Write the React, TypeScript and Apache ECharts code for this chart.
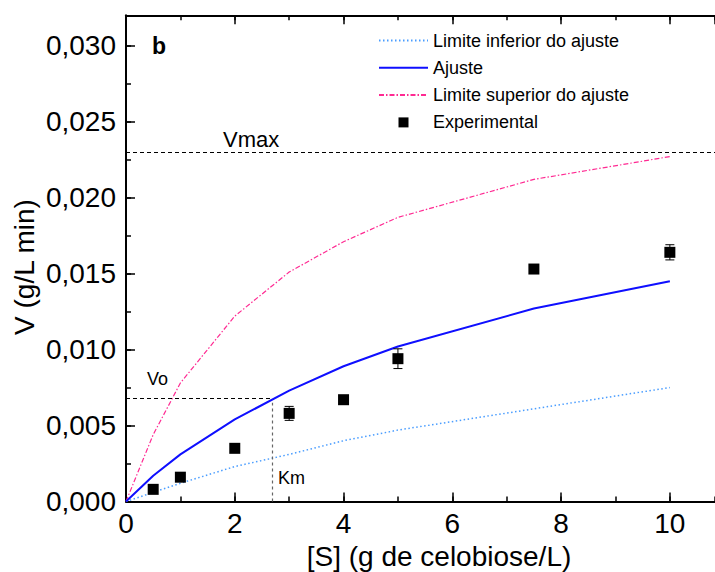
import React, { useEffect, useRef } from "react";
import * as echarts from "echarts";

const xFit = [0, 0.5, 1, 2, 3, 4, 5, 7.5, 10];
const lowerFit = [0, 0.0006, 0.0012, 0.0023, 0.0031, 0.004, 0.0047, 0.0061, 0.0075];
const ajusteFit = [0, 0.0017, 0.0031, 0.0054, 0.0073, 0.0089, 0.0102, 0.0127, 0.0145];
const upperFit = [0, 0.0044, 0.0078, 0.0122, 0.0151, 0.0171, 0.0187, 0.0212, 0.0227];

const xExp = [0.5, 1, 2, 3, 4, 5, 7.5, 10];
const yExp = [0.0008, 0.0016, 0.0035, 0.0058, 0.0067, 0.0094, 0.0153, 0.0164];
const errExp = [0.0002, 0.0002, 0.0002, 0.00046, 0.0002, 0.00065, 0.0002, 0.0005];

const vmax = 0.023;
const vo = 0.0068;
const km = 2.68;

const xTickLabels = ["0", "2", "4", "6", "8", "10"];
const yTickLabels = ["0,000", "0,005", "0,010", "0,015", "0,020", "0,025", "0,030"];

const FONT = "'Liberation Sans', Arial, Helvetica, sans-serif";

export default function App() {
  const ref = useRef<HTMLDivElement>(null);
  useEffect(() => {
    if (!ref.current) return;
    const chart = echarts.init(ref.current, undefined, { renderer: "svg" });
    const XMAX = 10.83;
    const YMAX = 0.032;
    const axisLineStyle = { color: "#000", width: 2 };
    const baseX = {
      type: "value",
      min: 0,
      max: XMAX,
      splitLine: { show: false },
    };
    const baseY = {
      type: "value",
      min: 0,
      max: YMAX,
      splitLine: { show: false },
    };
    const fmtX = (v: number) => {
      const i = Math.round(v / 2);
      return Math.abs(v - i * 2) < 1e-9 && i < xTickLabels.length ? xTickLabels[i] : "";
    };
    const fmtY = (v: number) => {
      const i = Math.round(v / 0.005);
      return Math.abs(v - i * 0.005) < 1e-9 && i < yTickLabels.length ? yTickLabels[i] : "";
    };
    const hiddenSym = { color: "rgba(0,0,0,0)", borderWidth: 0 };
    const option: any = {
      animation: false,
      backgroundColor: "#fff",
      textStyle: { fontFamily: FONT },
      grid: { left: 126, right: 0, top: 15.3, bottom: 70.5, containLabel: false, outerBoundsMode: "none" },
      legend: {
        left: 378,
        top: 31.5,
        padding: 0,
        orient: "vertical",
        itemWidth: 49,
        itemHeight: 10,
        itemGap: 9.3,
        symbolKeepAspect: true,
        textStyle: { fontSize: 18, lineHeight: 18, color: "#000", fontFamily: FONT },
        data: [
          { name: "Limite inferior do ajuste", itemStyle: hiddenSym },
          { name: "Ajuste", itemStyle: hiddenSym },
          { name: "Limite superior do ajuste", itemStyle: hiddenSym },
          { name: "Experimental", icon: "path://M0,0H10V10H0Z", itemStyle: { color: "#000" } },
        ],
      },
      xAxis: [
        {
          ...baseX,
          position: "bottom",
          interval: 2,
          axisLine: { show: true, lineStyle: axisLineStyle },
          axisTick: { show: true, inside: true, length: 9, lineStyle: { color: "#000", width: 1.5 } },
          axisLabel: { show: true, formatter: fmtX, fontSize: 28, color: "#000", margin: 8, showMaxLabel: false, fontFamily: FONT },
          name: "[S] (g de celobiose/L)",
          nameLocation: "middle",
          nameGap: 40,
          nameTextStyle: { fontSize: 28, color: "#000", padding: [0, 0, 0, 37], fontFamily: FONT },
        },
        {
          ...baseX,
          position: "bottom",
          interval: 1,
          axisLine: { show: false },
          axisTick: { show: true, inside: true, length: 5, lineStyle: { color: "#000", width: 1.5 } },
          axisLabel: { show: false },
        },
        {
          ...baseX,
          position: "top",
          interval: 2,
          axisLine: { show: true, lineStyle: axisLineStyle },
          axisTick: { show: true, inside: true, length: 9, lineStyle: { color: "#000", width: 1.5 } },
          axisLabel: { show: false },
        },
        {
          ...baseX,
          position: "top",
          interval: 1,
          axisLine: { show: false },
          axisTick: { show: true, inside: true, length: 5, lineStyle: { color: "#000", width: 1.5 } },
          axisLabel: { show: false },
        },
      ],
      yAxis: [
        {
          ...baseY,
          position: "left",
          interval: 0.005,
          axisLine: { show: true, lineStyle: axisLineStyle },
          axisTick: { show: true, inside: true, length: 9, lineStyle: { color: "#000", width: 1.5 } },
          axisLabel: { show: true, formatter: fmtY, fontSize: 28, color: "#000", margin: 10, showMaxLabel: false, fontFamily: FONT },
        },
        {
          ...baseY,
          position: "left",
          interval: 0.0025,
          axisLine: { show: false },
          axisTick: { show: true, inside: true, length: 5, lineStyle: { color: "#000", width: 1.5 } },
          axisLabel: { show: false },
        },
      ],
      series: [
        {
          name: "Limite inferior do ajuste",
          type: "line",
          xAxisIndex: 0,
          yAxisIndex: 0,
          symbol: "none",
          data: xFit.map((x, i) => [x, lowerFit[i]]),
          lineStyle: { color: "#4a9dff", width: 1.5, type: [1.5, 2.5] },
          itemStyle: { color: "#4a9dff" },
          z: 2,
        },
        {
          name: "Ajuste",
          type: "line",
          xAxisIndex: 0,
          yAxisIndex: 0,
          symbol: "none",
          data: xFit.map((x, i) => [x, ajusteFit[i]]),
          lineStyle: { color: "#0f0fff", width: 2 },
          itemStyle: { color: "#0f0fff" },
          z: 3,
          markLine: {
            silent: true,
            symbol: "none",
            label: { show: false },
            lineStyle: { color: "#000", width: 1, type: [4, 3] },
            data: [
              [{ coord: [0, vmax] }, { coord: [XMAX, vmax] }],
              [{ coord: [0, vo] }, { coord: [km, vo] }],
              [{ coord: [km, 0], lineStyle: { color: "#666", width: 1.2, type: [3, 3] } }, { coord: [km, vo - 0.0003] }],
            ],
          },
        },
        {
          name: "Limite superior do ajuste",
          type: "line",
          xAxisIndex: 0,
          yAxisIndex: 0,
          symbol: "none",
          data: xFit.map((x, i) => [x, upperFit[i]]),
          lineStyle: { color: "#ff2a92", width: 1.2, type: [5, 2, 1.5, 2] },
          itemStyle: { color: "#ff2a92" },
          z: 2,
        },
        {
          name: "ErrorBars",
          type: "custom",
          xAxisIndex: 0,
          yAxisIndex: 0,
          data: xExp.map((x, i) => [x, yExp[i], errExp[i]]),
          encode: { x: 0, y: 1 },
          z: 4,
          renderItem: (params: any, api: any) => {
            const x = api.value(0);
            const y = api.value(1);
            const e = api.value(2);
            const top = api.coord([x, y + e]);
            const bot = api.coord([x, y - e]);
            const hw = 4.5;
            const st = { stroke: "#000", lineWidth: 1 };
            return {
              type: "group",
              children: [
                { type: "line", shape: { x1: top[0], y1: top[1], x2: bot[0], y2: bot[1] }, style: st },
                { type: "line", shape: { x1: top[0] - hw, y1: top[1], x2: top[0] + hw, y2: top[1] }, style: st },
                { type: "line", shape: { x1: bot[0] - hw, y1: bot[1], x2: bot[0] + hw, y2: bot[1] }, style: st },
              ],
            };
          },
        },
        {
          name: "Experimental",
          type: "scatter",
          xAxisIndex: 0,
          yAxisIndex: 0,
          symbol: "rect",
          symbolSize: 11,
          data: xExp.map((x, i) => [x, yExp[i]]),
          itemStyle: { color: "#000", opacity: 1 },
          z: 5,
        },
      ],
      graphic: [
        {
          type: "text",
          x: 24,
          y: 267,
          rotation: Math.PI / 2,
          style: { text: "V (g/L min)", font: `28px ${FONT}`, fill: "#000", textAlign: "center", textVerticalAlign: "middle" },
        },
        { type: "text", x: 152, y: 46, style: { text: "b", font: `bold 23px ${FONT}`, fill: "#000", textVerticalAlign: "middle" } },
        { type: "text", x: 223, y: 139, style: { text: "Vmax", font: `22px ${FONT}`, fill: "#000", textVerticalAlign: "middle" } },
        { type: "text", x: 147, y: 379, style: { text: "Vo", font: `18px ${FONT}`, fill: "#000", textVerticalAlign: "middle" } },
        { type: "text", x: 278, y: 478, style: { text: "Km", font: `18px ${FONT}`, fill: "#000", textVerticalAlign: "middle" } },
      ],
    };
    chart.setOption(option);
    return () => chart.dispose();
  }, []);
  return (
    <div
      ref={ref}
      style={{ position: "fixed", left: 0, top: 0, width: 715, height: 572, background: "#fff" }}
    />
  );
}
